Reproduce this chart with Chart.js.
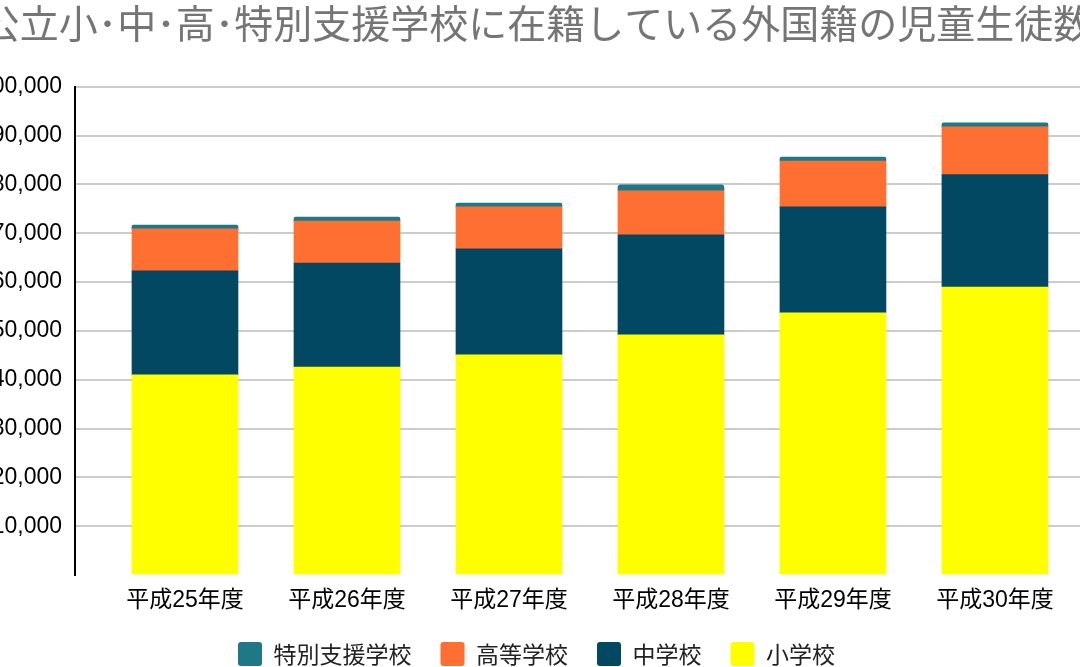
<!DOCTYPE html>
<html lang="ja">
<head>
<meta charset="utf-8">
<title>公立学校に在籍している外国籍の児童生徒数</title>
<script src="https://cdn.jsdelivr.net/npm/chart.js@4/dist/chart.umd.min.js"></script>
<style>
  html, body { margin: 0; padding: 0; background: #fff; }
  #wrap { width: 1080px; height: 667px; position: relative; }
</style>
</head>
<body>
<div id="wrap"><canvas id="chart"></canvas></div>
<script>
// data (people)
var categories = ['平成25年度', '平成26年度', '平成27年度', '平成28年度', '平成29年度', '平成30年度'];
var elementary = [41000, 42600, 45100, 49200, 53700, 59000];
var juniorHigh = [21300, 21300, 21700, 20500, 21700, 23000];
var highSchool = [8600, 8600, 8600, 9000, 9400, 9800];
var special = [800, 800, 800, 1200, 800, 800];
var yTicks = [0, 10000, 20000, 30000, 40000, 50000, 60000, 70000, 80000, 90000, 100000];

var latin = "'Liberation Sans', 'Noto Sans CJK JP', sans-serif";
var cjk = "'Noto Sans CJK JP', sans-serif";

// the picture is a crop of a wider chart: let the boxes run past the canvas edges
var padLeft = -37, padRight = -30;

function points(arr) {
    return arr.map(function (v, i) { return { x: i, y: v }; });
}

var datasets = [
    { label: '小学校', data: points(elementary), backgroundColor: '#ffff00' },
    { label: '中学校', data: points(juniorHigh), backgroundColor: '#024863' },
    { label: '高等学校', data: points(highSchool), backgroundColor: '#ff6f31' },
    {
        label: '特別支援学校', data: points(special), backgroundColor: '#1e7886',
        borderRadius: { topLeft: 3, topRight: 3 }, borderSkipped: 'start'
    }
];

var ctx = document.getElementById('chart');
var chart = new Chart(ctx, {
    type: 'bar',
    data: { datasets: datasets },
    options: {
        responsive: true,
        maintainAspectRatio: false,
        animation: false,
        barThickness: 106,
        layout: { padding: { left: padLeft, right: padRight, top: 0, bottom: -9 } },
        plugins: {
            title: {
                display: true,
                text: '公立小･中･高･特別支援学校に在籍している外国籍の児童生徒数',
                color: '#757575',
                font: { family: cjk, size: 39, weight: 'normal' },
                padding: { top: 0, bottom: 40 }
            },
            legend: {
                position: 'bottom',
                reverse: true,
                labels: {
                    boxWidth: 24,
                    boxHeight: 24,
                    useBorderRadius: true,
                    borderRadius: 3,
                    padding: 29,
                    color: '#222',
                    font: { family: cjk, size: 23 }
                }
            },
            tooltip: { enabled: false }
        },
        scales: {
            x: {
                type: 'linear',
                stacked: true,
                offset: false,
                min: -0.679,
                max: 5.525,
                afterFit: function (s) { s.height = 38; },
                grid: { display: false, drawTicks: false, tickLength: 0 },
                border: { display: false },
                afterBuildTicks: function (s) {
                    s.ticks = categories.map(function (c, i) { return { value: i }; });
                },
                ticks: {
                    autoSkip: false,
                    maxRotation: 0,
                    padding: 12,
                    color: '#000',
                    font: { family: latin, size: 23 },
                    callback: function (v) { return categories[v]; }
                }
            },
            y: {
                stacked: true,
                min: 0,
                max: 100000,
                afterFit: function (s) { s.width = 75 - padLeft; },
                afterBuildTicks: function (s) {
                    s.ticks = yTicks.map(function (v) { return { value: v }; });
                },
                grid: {
                    drawTicks: false,
                    tickLength: 0,
                    lineWidth: 2,
                    color: function (c) { return c.tick && c.tick.value === 0 ? 'rgba(0,0,0,0)' : '#cccccc'; }
                },
                border: { display: true, color: '#000', width: 2 },
                ticks: {
                    padding: 13,
                    color: '#000',
                    font: { family: latin, size: 23 },
                    callback: function (v) { return v === 0 ? '' : v.toLocaleString('en-US'); }
                }
            }
        }
    }
});
</script>
</body>
</html>
